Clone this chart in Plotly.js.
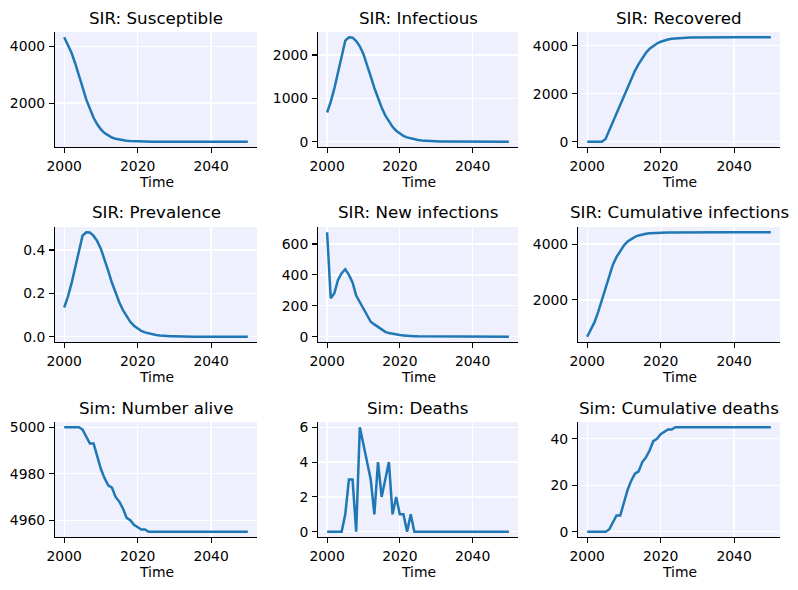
<!DOCTYPE html>
<html>
<head>
<meta charset="utf-8">
<script src="https://cdn.plot.ly/plotly-3.0.1.min.js"></script>
<style>html,body{margin:0;padding:0;background:#fff;}#chart{width:798px;height:590px;}</style>
</head>
<body>
<div id="chart"></div>
<script>
// ---- data ----
const years = [2000,2001,2002,2003,2004,2005,2006,2007,2008,2009,2010,2011,2012,2013,2014,2015,2016,2017,2018,2019,2020,2021,2022,2023,2024,2025,2026,2027,2028,2029,2030,2031,2032,2033,2034,2035,2036,2037,2038,2039,2040,2041,2042,2043,2044,2045,2046,2047,2048,2049,2050];

const susceptible = [4330,4080,3780,3400,3010,2560,2130,1770,1480,1250,1070,940,850,780,735,705,685,670,660,652,646,642,639,637,635,634,633,632,631,631,630,630,630,630,630,630,630,630,630,630,630,630,630,630,630,630,630,630,630,630,630];

const infectious = [675,920,1230,1620,2000,2330,2410,2400,2320,2200,2020,1780,1510,1240,990,790,610,460,345,255,185,135,100,75,55,40,30,22,16,12,9,7,5,4,3,2,2,1,1,1,0,0,0,0,0,0,0,0,0,0,0];

const recovered = [0,0,0,0,5,120,480,850,1210,1560,1920,2290,2620,2950,3230,3480,3700,3870,3990,4090,4160,4215,4255,4283,4302,4316,4326,4333,4338,4341,4343,4345,4346,4347,4348,4349,4350,4350,4350,4350,4350,4350,4350,4350,4350,4350,4350,4350,4350,4350,4350];

const prevalence = [0.135,0.184,0.246,0.324,0.400,0.466,0.482,0.481,0.465,0.441,0.405,0.358,0.304,0.249,0.199,0.159,0.123,0.093,0.069,0.051,0.037,0.027,0.020,0.015,0.011,0.008,0.006,0.004,0.003,0.002,0.002,0.001,0.001,0.001,0.001,0,0,0,0,0,0,0,0,0,0,0,0,0,0,0,0];

const newInfections = [676,249,281,368,411,437,400,352,266,223,173,140,97,80,63,45,32,24,19,13,11,9,6,5,4,3,3,2,2,1,1,1,1,1,0,0,0,0,0,0,0,0,0,0,0,0,0,0,0,0,0];

const cumInfections = [676,920,1200,1570,2000,2470,2900,3260,3540,3770,3950,4090,4190,4260,4310,4345,4370,4385,4395,4403,4408,4412,4415,4417,4419,4420,4421,4422,4423,4424,4425,4425,4425,4425,4425,4425,4425,4425,4425,4425,4425,4425,4425,4425,4425,4425,4425,4425,4425,4425,4425];

const numberAlive = [5000,5000,5000,5000,5000,4999,4996,4993,4993,4987,4982,4978,4975,4974,4970,4968,4965,4961,4960,4958,4957,4956,4956,4955,4955,4955,4955,4955,4955,4955,4955,4955,4955,4955,4955,4955,4955,4955,4955,4955,4955,4955,4955,4955,4955,4955,4955,4955,4955,4955,4955];

const deaths = [0,0,0,0,0,1,3,3,0,6,5,4,3,1,4,2,3,4,1,2,1,1,0,1,0,0,0,0,0,0,0,0,0,0,0,0,0,0,0,0,0,0,0,0,0,0,0,0,0,0,0];

const cumDeaths = [0,0,0,0,0,0,1,4,7,7,13,18,22,25,26,30,32,35,39,40,42,43,44,44,45,45,45,45,45,45,45,45,45,45,45,45,45,45,45,45,45,45,45,45,45,45,45,45,45,45,45];

const titles = ["SIR: Susceptible","SIR: Infectious","SIR: Recovered","SIR: Prevalence","SIR: New infections","SIR: Cumulative infections","Sim: Number alive","Sim: Deaths","Sim: Cumulative deaths"];
const xTicks = [2000,2020,2040];
const yTicks = [
  [2000,4000],
  [0,1000,2000],
  [0,2000,4000],
  [0,0.2,0.4],
  [0,200,400,600],
  [2000,4000],
  [4960,4980,5000],
  [0,2,4,6],
  [0,20,40]
];
const yTickText = [
  ["2000","4000"],
  ["0","1000","2000"],
  ["0","2000","4000"],
  ["0.0","0.2","0.4"],
  ["0","200","400","600"],
  ["2000","4000"],
  ["4960","4980","5000"],
  ["0","2","4","6"],
  ["0","20","40"]
];
const series = [susceptible, infectious, recovered, prevalence, newInfections, cumInfections, numberAlive, deaths, cumDeaths];

// ---- layout ----
const W = 798, H = 590;
const colsX = [[55,257],[318,518],[578,780]];
const rowsY = [[32,147],[227,342],[422,537]];
const font = "DejaVu Sans, Liberation Sans, sans-serif";
const bg = "#eff0fe";

function padRange(arr){
  let mn = Math.min(...arr), mx = Math.max(...arr);
  const d = (mx - mn) || 1;
  return [mn - 0.05*d, mx + 0.05*d];
}

const traces = [];
const layout = {
  width: W, height: H,
  margin: {l:0, r:0, t:0, b:0},
  paper_bgcolor: "#ffffff",
  plot_bgcolor: bg,
  showlegend: false,
  font: {family: font, size: 13.9, color: "#000"},
  annotations: []
};

for (let i = 0; i < 9; i++) {
  const r = Math.floor(i/3), c = i % 3;
  const n = i + 1;
  const xa = "xaxis" + (n === 1 ? "" : n);
  const ya = "yaxis" + (n === 1 ? "" : n);
  const xr = "x" + (n === 1 ? "" : n);
  const yr = "y" + (n === 1 ? "" : n);
  const [l, rr] = colsX[c];
  const [t, b] = rowsY[r];
  traces.push({
    x: years, y: series[i], type: "scatter", mode: "lines",
    line: {color: "#1f77b4", width: 2.5},
    xaxis: xr, yaxis: yr, hoverinfo: "skip"
  });
  const common = {
    showline: true, linecolor: "#000", linewidth: 1.1,
    ticks: "outside", ticklen: 4.9, tickwidth: 1.1, tickcolor: "#000",
    showgrid: true, gridcolor: "#ffffff", gridwidth: 1.3,
    zeroline: false, mirror: false, fixedrange: true,
    tickfont: {family: font, size: 13.9, color: "#000"},
    tickmode: "array"
  };
  layout[xa] = Object.assign({}, common, {
    domain: [l/W, rr/W], anchor: yr,
    range: padRange(years), tickvals: xTicks,
    ticktext: xTicks.map(String), ticklabelstandoff: 1
  });
  layout[ya] = Object.assign({}, common, {
    domain: [1 - b/H, 1 - t/H], anchor: xr,
    range: padRange(series[i]), tickvals: yTicks[i], ticktext: yTickText[i],
    ticklabelstandoff: 1
  });
  layout.annotations.push({
    text: titles[i], xref: "paper", yref: "paper",
    x: ((l + rr)/2)/W, y: 1 - (t - 14.5)/H,
    xanchor: "center", yanchor: "middle", showarrow: false,
    font: {family: font, size: 16.7, color: "#000"}
  });
  layout.annotations.push({
    text: "Time", xref: "paper", yref: "paper",
    x: ((l + rr)/2)/W, y: 1 - (b + 35)/H,
    xanchor: "center", yanchor: "middle", showarrow: false,
    font: {family: font, size: 13.9, color: "#000"}
  });
}

Plotly.newPlot("chart", traces, layout, {staticPlot: true, displayModeBar: false});
</script>
</body>
</html>
